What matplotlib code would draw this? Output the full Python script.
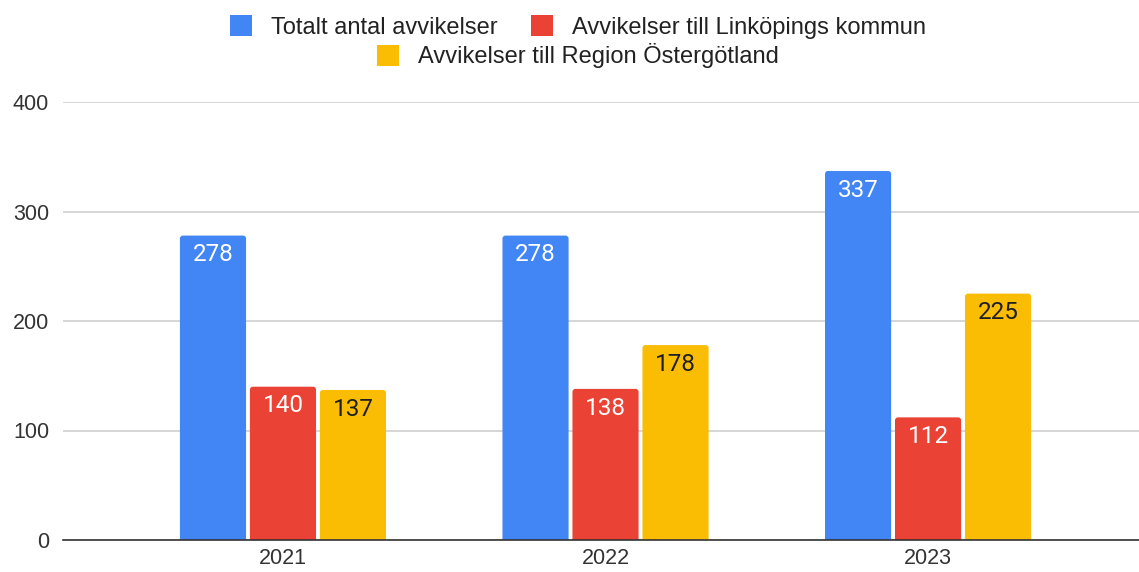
import matplotlib
matplotlib.use("Agg")
import matplotlib.pyplot as plt
from matplotlib.patches import FancyBboxPatch, Patch
import numpy as np

# data
years = ["2021", "2022", "2023"]
totalt = [278, 278, 337]
linkoping = [140, 138, 112]
region = [137, 178, 225]

series_names = ["Totalt antal avvikelser",
                "Avvikelser till Linköpings kommun",
                "Avvikelser till Region Östergötland"]
series_values = [totalt, linkoping, region]
colors = ["#4285F4", "#EA4335", "#FBBC04"]
label_colors = ["white", "white", "#1f1f1f"]

plt.rcParams["font.family"] = ["Liberation Sans", "DejaVu Sans"]

fig = plt.figure(figsize=(11.39, 5.72), dpi=100)
ax = fig.add_axes([63 / 1139, 32 / 572, 1 - 63 / 1139, 438 / 572])

x = np.arange(len(years))
width = 0.205
step = 0.217

# px per data unit, used to keep the corner radius round
px_x = 322.5
px_y = 438 / 400.0
radius_px = 3.0

for i, (name, vals) in enumerate(zip(series_names, series_values)):
    pos = x + (i - 1) * step
    bars = ax.bar(pos, vals, width, color=colors[i], label=name, zorder=3)
    for b, v in zip(bars, vals):
        b.set_visible(False)
        rx = radius_px / px_x
        ry = radius_px / px_y
        p = FancyBboxPatch((b.get_x() + rx, -10 + ry),
                           b.get_width() - 2 * rx, v + 10 - 2 * ry,
                           boxstyle="round,pad=%f" % rx,
                           mutation_aspect=ry / rx,
                           facecolor=colors[i], edgecolor="none", zorder=3)
        ax.add_patch(p)
        ax.annotate(str(v), (b.get_x() + b.get_width() / 2, v),
                    xytext=(0, -18.5), textcoords="offset points",
                    ha="center", va="baseline", fontsize=17.5,
                    family=["Roboto", "DejaVu Sans"],
                    color=label_colors[i], zorder=4)

ax.set_xlim(-0.682, 2.654)
ax.set_ylim(0, 400)
ax.set_yticks([0, 100, 200, 300, 400])
ax.set_xticks(x)
ax.set_xticklabels(years)
ax.tick_params(axis="both", length=0, labelsize=15.5, colors="#333333")
ax.tick_params(axis="y", pad=10)
ax.tick_params(axis="x", pad=6)

ax.grid(axis="y", color="#cccccc", linewidth=1.1, zorder=0)
for s in ["top", "right", "left"]:
    ax.spines[s].set_visible(False)
ax.spines["bottom"].set_color("#333333")
ax.spines["bottom"].set_linewidth(1.2)
ax.spines["bottom"].set_zorder(5)

handles = [Patch(facecolor=c, edgecolor="none") for c in colors]
leg_kw = dict(frameon=False, fontsize=17, handlelength=0.95, handleheight=0.95,
              handletextpad=0.8, columnspacing=1.4, borderaxespad=0,
              borderpad=0, labelcolor="#222222")
leg1 = fig.legend(handles[:2], series_names[:2], loc="center",
                  bbox_to_anchor=(578 / 1139, 1 - 27 / 572), ncol=2, **leg_kw)
leg2 = fig.legend(handles[2:], series_names[2:], loc="center",
                  bbox_to_anchor=(578 / 1139, 1 - 56 / 572), ncol=1, **leg_kw)

fig.savefig("out.png", dpi=100)
